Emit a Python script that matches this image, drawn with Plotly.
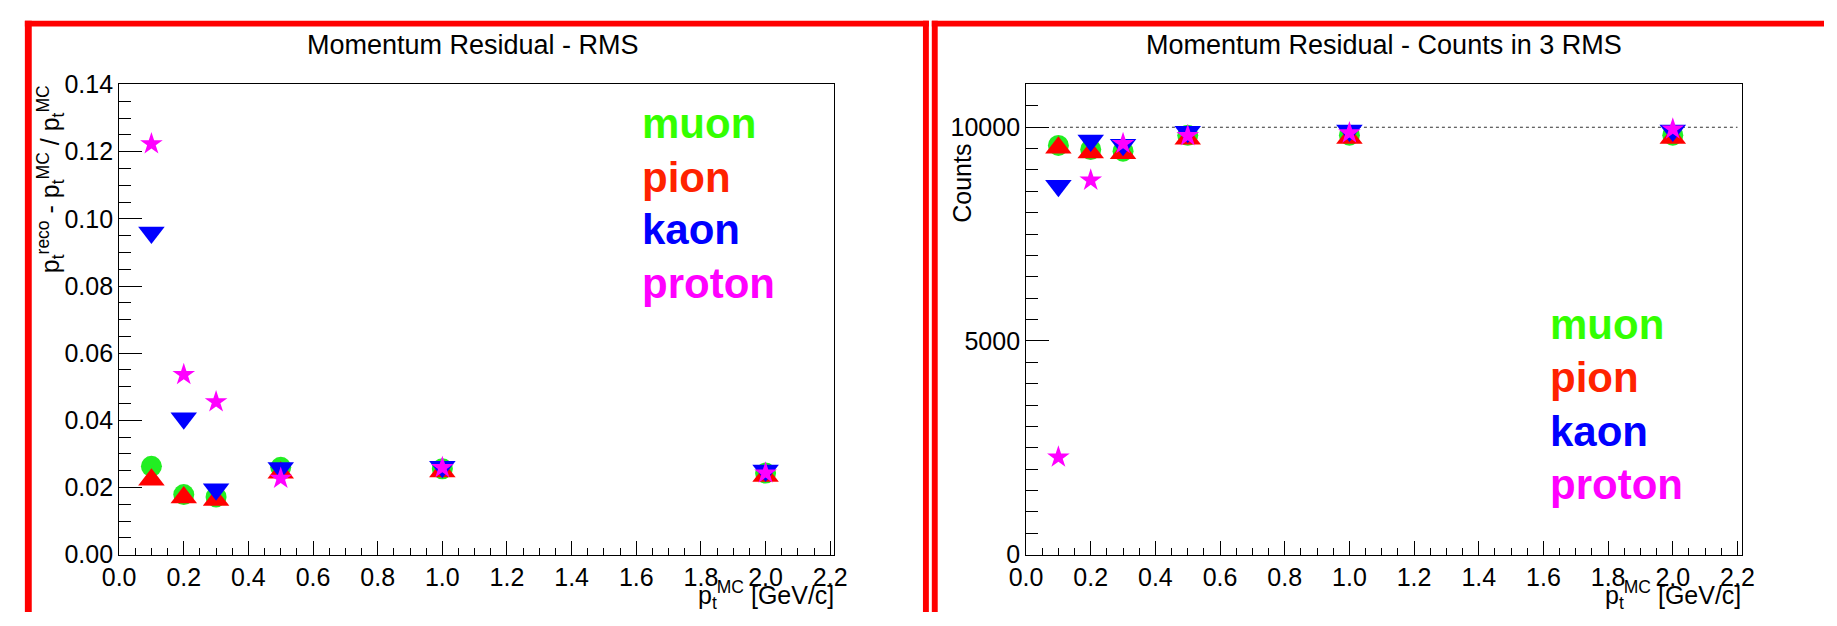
import plotly.graph_objects as go

W, H = 1837, 626

# ---------------- data ----------------
pt_mc = [0.1, 0.2, 0.3, 0.5, 1.0, 2.0]
particles = ["muon", "pion", "kaon", "proton"]

rms_muon = [0.0263, 0.0179, 0.0172, 0.0260, 0.0256, 0.0243]
rms_pion = [0.0223, 0.0170, 0.0163, 0.0244, 0.0248, 0.0234]
rms_kaon = [0.0959, 0.0406, 0.0195, 0.0258, 0.0262, 0.0251]
rms_proton = [0.1223, 0.0536, 0.0455, 0.0227, 0.0259, 0.0243]

cnt_muon = [9575, 9480, 9440, 9810, 9815, 9815]
cnt_pion = [9522, 9410, 9390, 9730, 9750, 9750]
cnt_kaon = [8630, 9690, 9590, 9895, 9925, 9925]
cnt_proton = [2280, 8760, 9615, 9800, 9865, 9955]

ref_count = 10000
ref_line_x = [0.08, 2.2]

title_left = "Momentum Residual - RMS"
title_right = "Momentum Residual - Counts in 3 RMS"
ytitle_left = "p<sub>t</sub><sup>reco</sup> - p<sub>t</sub><sup>MC</sup> / p<sub>t</sub><sup>MC</sup>"
ytitle_right = "Counts"
xtitle = "p<sub>t</sub><sup>MC</sup> [GeV/c]"

# ---------------- styles ----------------
marker_colors = {"muon": "#22ee22", "pion": "#ff0000", "kaon": "#0000ff", "proton": "#ff00ff"}
text_colors = {"muon": "#33ff00", "pion": "#ff2200", "kaon": "#0000ff", "proton": "#ff00ff"}
symbols = {"muon": "circle", "pion": "triangle-up", "kaon": "triangle-down", "proton": "star"}
sizes = {"muon": 21, "pion": 23, "kaon": 23, "proton": 17}
FONT = "Liberation Sans, Arial, Helvetica, sans-serif"


def px(xp):
    return xp / W


def py(yp):
    return 1 - yp / H


fig = go.Figure()

rms = {"muon": rms_muon, "pion": rms_pion, "kaon": rms_kaon, "proton": rms_proton}
cnt = {"muon": cnt_muon, "pion": cnt_pion, "kaon": cnt_kaon, "proton": cnt_proton}

# reference dotted line in right panel
fig.add_trace(go.Scatter(x=ref_line_x, y=[ref_count, ref_count], mode="lines",
                         line=dict(color="#333333", width=1.2, dash="dot"),
                         xaxis="x2", yaxis="y2", showlegend=False, hoverinfo="skip"))

for p in particles:
    fig.add_trace(go.Scatter(x=pt_mc, y=rms[p], mode="markers", name=p,
                             marker=dict(symbol=symbols[p], size=sizes[p], color=marker_colors[p]),
                             xaxis="x", yaxis="y", showlegend=False))
for p in particles:
    fig.add_trace(go.Scatter(x=pt_mc, y=cnt[p], mode="markers", name=p,
                             marker=dict(symbol=symbols[p], size=sizes[p], color=marker_colors[p]),
                             xaxis="x2", yaxis="y2", showlegend=False))

# plot frames (pixels)
L_x0, L_x1 = 103.8, 831.0
R_x0, R_x1 = 1025.8, 1753.3
Y_top, Y_bot = 73.8, 566.0
XMAX = 2.213

tickfont = dict(family=FONT, size=25, color="black")

xaxis_common = dict(range=[0, XMAX], tick0=0, dtick=0.2, tickformat=".1f",
                    ticks="inside", ticklen=14, tickwidth=1, tickcolor="black",
                    minor=dict(ticks="inside", dtick=0.05, ticklen=7, tickwidth=1, tickcolor="black"),
                    showline=True, linecolor="black", linewidth=1, mirror=True,
                    showgrid=False, zeroline=False, tickfont=tickfont)

fig.update_layout(
    width=W, height=H,
    margin=dict(l=0, r=0, t=0, b=0),
    paper_bgcolor="white", plot_bgcolor="white",
    xaxis=dict(domain=[px(L_x0), px(L_x1)], anchor="y", **xaxis_common),
    yaxis=dict(domain=[py(Y_bot), py(Y_top)], anchor="x", range=[0, 0.14],
               tick0=0, dtick=0.02, tickformat=".2f",
               ticks="inside", ticklen=23, tickwidth=1, tickcolor="black",
               minor=dict(ticks="inside", dtick=0.005, ticklen=12, tickwidth=1, tickcolor="black"),
               showline=True, linecolor="black", linewidth=1, mirror=True,
               showgrid=False, zeroline=False, tickfont=tickfont),
    xaxis2=dict(domain=[px(R_x0), px(R_x1)], anchor="y2", **xaxis_common),
    yaxis2=dict(domain=[py(Y_bot), py(Y_top)], anchor="x2", range=[0, 11000],
                tick0=0, dtick=5000, tickformat="d",
                ticks="inside", ticklen=23, tickwidth=1, tickcolor="black",
                minor=dict(ticks="inside", dtick=500, ticklen=12, tickwidth=1, tickcolor="black"),
                showline=True, linecolor="black", linewidth=1, mirror=True,
                showgrid=False, zeroline=False, tickfont=tickfont),
)

# red pad borders
red = "#ff0000"
borders = [
    (8, 7, 15, 626), (8, 7, 927, 13), (921, 7, 927, 626),
    (930, 7, 936, 626), (930, 7, 1837, 13),
]
for (a, b, c, d) in borders:
    fig.add_shape(type="rect", xref="paper", yref="paper",
                  x0=px(a), x1=px(c), y0=py(d), y1=py(b),
                  fillcolor=red, line=dict(width=0), layer="above")

ann = []
# titles
ann.append(dict(text=title_left, x=px(464), y=py(32.5), xanchor="center", yanchor="middle",
                font=dict(family=FONT, size=27, color="black")))
ann.append(dict(text=title_right, x=px(1390), y=py(32.5), xanchor="center", yanchor="middle",
                font=dict(family=FONT, size=27, color="black")))
# y titles
ann.append(dict(text=ytitle_left, textangle=-90, x=px(34), y=py(72), xanchor="center", yanchor="top",
                font=dict(family=FONT, size=25, color="black")))
ann.append(dict(text=ytitle_right, textangle=-90, x=px(960), y=py(134), xanchor="center", yanchor="top",
                font=dict(family=FONT, size=25, color="black")))
# x titles
ann.append(dict(text=xtitle, x=px(833), y=py(608), xanchor="right", yanchor="middle",
                font=dict(family=FONT, size=25, color="black")))
ann.append(dict(text=xtitle, x=px(1755), y=py(608), xanchor="right", yanchor="middle",
                font=dict(family=FONT, size=25, color="black")))

# in-plot particle labels
left_label_y = [115, 171, 226, 282]
right_label_y = [325, 381, 437, 493]
for p, yl, yr in zip(particles, left_label_y, right_label_y):
    ann.append(dict(text="<b>%s</b>" % p, x=px(633), y=py(yl), xanchor="left", yanchor="middle",
                    font=dict(family=FONT, size=42, color=text_colors[p])))
    ann.append(dict(text="<b>%s</b>" % p, x=px(1556), y=py(yr), xanchor="left", yanchor="middle",
                    font=dict(family=FONT, size=42, color=text_colors[p])))

for a in ann:
    a.update(xref="paper", yref="paper", showarrow=False)
fig.update_layout(annotations=ann)

fig.write_html(
    "out.html",
    config={"displayModeBar": False},
    post_script=("document.documentElement.style.margin='0px';"
                 "document.body.style.margin='0px';"
                 "document.body.style.padding='0px';"
                 "document.documentElement.style.overflow='hidden';"
                 "document.body.style.overflow='hidden';"),
)
